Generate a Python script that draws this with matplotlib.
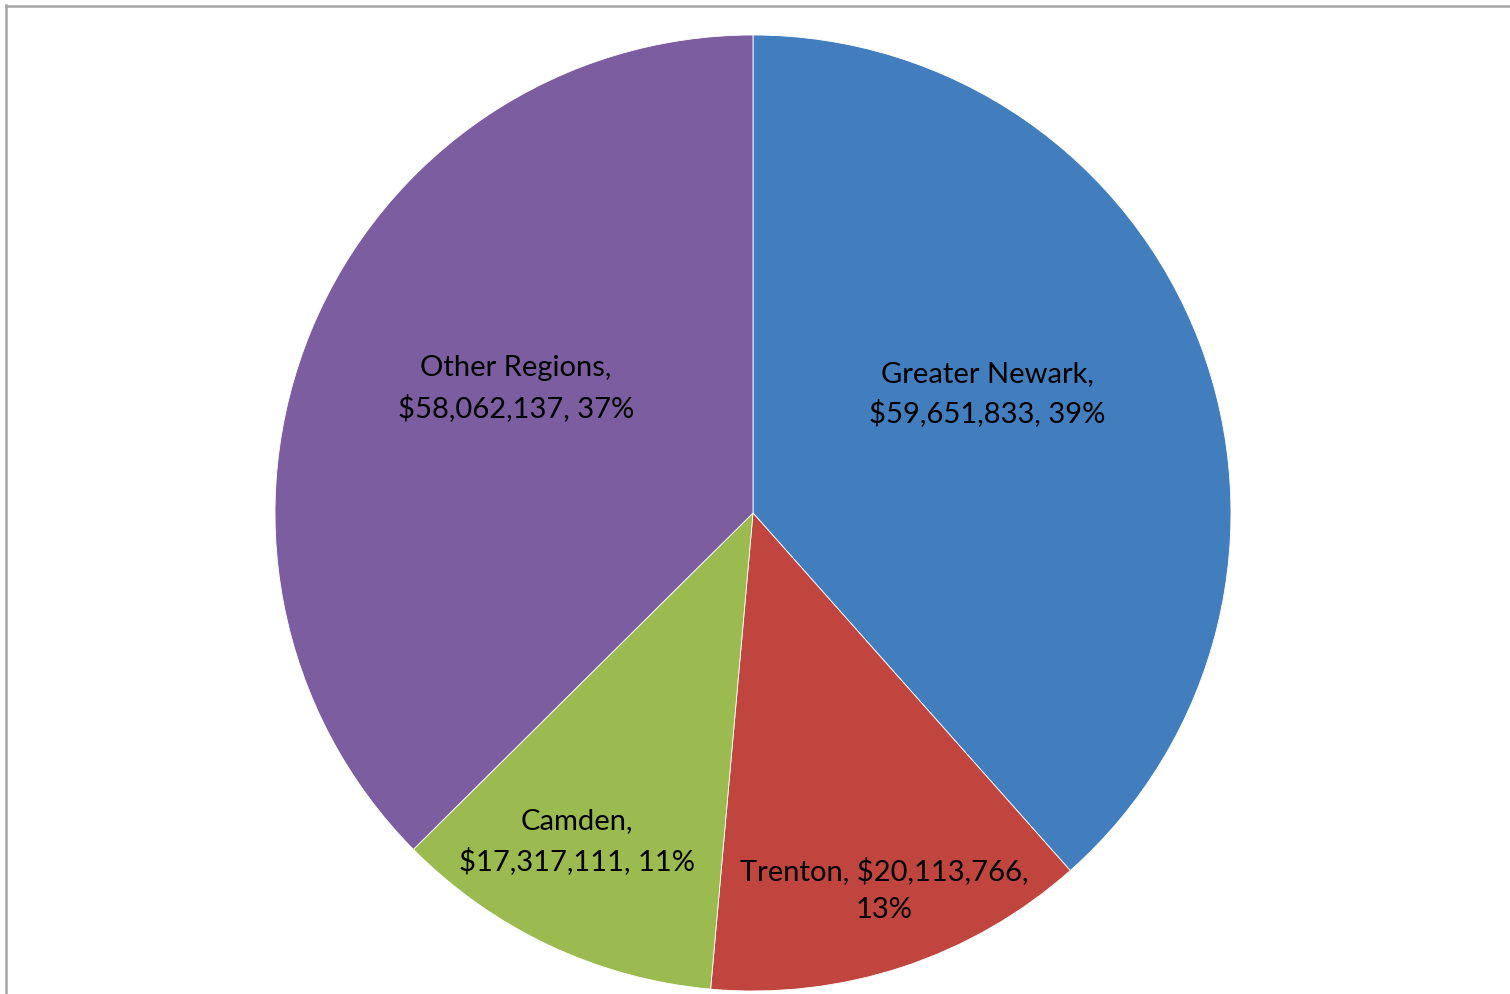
import numpy as np
import matplotlib
matplotlib.use("Agg")
import matplotlib.pyplot as plt
from matplotlib.lines import Line2D

regions = ["Greater Newark", "Trenton", "Camden", "Other Regions"]
amounts = [59651833, 20113766, 17317111, 58062137]
percents = [39, 13, 11, 37]
colors = ["#427DBD", "#C0453F", "#9BBB50", "#7C5D9F"]

# label text split like Excel's best fit boxes
label_lines = [
    "Greater Newark,\n${:,}, {}%",
    "Trenton, ${:,},\n{}%",
    "Camden,\n${:,}, {}%",
    "Other Regions,\n${:,}, {}%",
]
# label centres (angle deg, distance in radii)
label_angle = [26.9, -70.8, -118.2, 152.3]
label_dist = [0.55, 0.835, 0.78, 0.56]

W, H = 1510, 994
fig = plt.figure(figsize=(W / 100, H / 100), dpi=100)
cx, cy, r = 753, 513, 478
ax = fig.add_axes([(cx - r) / W, (H - cy - r) / H, 2 * r / W, 2 * r / H])
ax.pie(amounts, colors=colors, startangle=90, counterclock=False, radius=1,
       wedgeprops=dict(edgecolor="white", linewidth=0.6))
ax.set_xlim(-1, 1)
ax.set_ylim(-1, 1)
ax.set_aspect("auto")
ax.axis("off")

for i, fmt in enumerate(label_lines):
    a = np.deg2rad(label_angle[i])
    x = label_dist[i] * np.cos(a)
    y = label_dist[i] * np.sin(a)
    ax.text(x, y, fmt.format(amounts[i], percents[i]), ha="center", va="center",
            fontsize=21, family=["Lato", "DejaVu Sans"], linespacing=1.55, color="black")

# chart area border (clipped at right and bottom)
fig.add_artist(Line2D([6 / W, 6 / W], [1 - 5 / H, 1 - 993 / H], color="#a6a6a6", lw=1.8,
                      transform=fig.transFigure))
fig.add_artist(Line2D([6 / W, 1], [1 - 5.5 / H, 1 - 5.5 / H], color="#a6a6a6", lw=1.8,
                      transform=fig.transFigure))

fig.savefig("out.png", dpi=100)
